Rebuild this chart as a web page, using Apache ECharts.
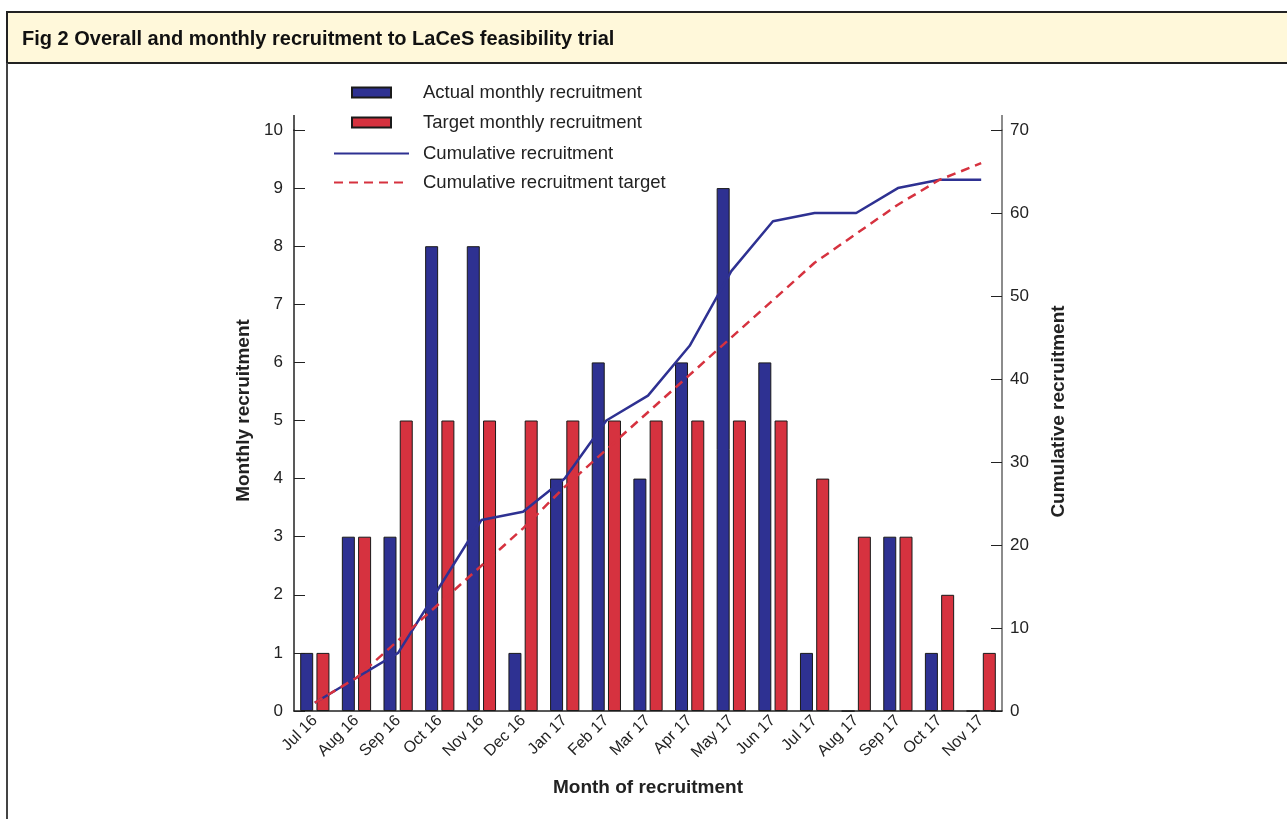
<!DOCTYPE html>
<html>
<head>
<meta charset="utf-8">
<script src="https://cdn.jsdelivr.net/npm/echarts@6/dist/echarts.min.js"></script>
<style>
html,body{margin:0;padding:0;background:#fff;}
#chart{width:1287px;height:819px;}
</style>
</head>
<body>
<div id="chart"></div>
<script>
const months = ['Jul 16','Aug 16','Sep 16','Oct 16','Nov 16','Dec 16','Jan 17','Feb 17','Mar 17','Apr 17','May 17','Jun 17','Jul 17','Aug 17','Sep 17','Oct 17','Nov 17'];
const actualMonthly = [1,3,3,8,8,1,4,6,4,6,9,6,1,0,3,1,0];
const targetMonthly = [1,3,5,5,5,5,5,5,5,5,5,5,4,3,3,2,1];
const cumulativeActual = [1,4,7,15,23,24,28,35,38,44,53,59,60,60,63,64,64];
const cumulativeTarget = [1,4,8.5,13,17.5,22,27,31.5,36,40.5,45,49.5,54,57.5,61,64,66];
const leftTicks = {min:0,max:10,interval:1};
const rightTicks = {min:0,max:70,interval:10};

const BLUE = '#2e3192';
const RED = '#d6323f';
const FONT = '"Liberation Sans", Arial, sans-serif';

const chart = echarts.init(document.getElementById('chart'));
chart.setOption({
  animation:false,
  textStyle:{fontFamily:FONT},
  title:{
    text:'Fig 2 Overall and monthly recruitment to LaCeS feasibility trial',
    left:22, top:29,
    padding:0,
    textStyle:{fontFamily:FONT,fontSize:20,fontWeight:'bold',color:'#111'}
  },
  graphic:[
    {type:'rect',z:-1,shape:{x:7,y:12,width:1300,height:51},style:{fill:'#fff8da',stroke:'#222',lineWidth:2}},
    {type:'line',shape:{x1:7,y1:63,x2:7,y2:830},style:{stroke:'#444',lineWidth:2}},
    {type:'line',shape:{x1:294,y1:115,x2:294,y2:131},style:{stroke:'#222',lineWidth:1.5}},
    {type:'line',shape:{x1:1002,y1:115,x2:1002,y2:131},style:{stroke:'#666',lineWidth:1.5}}
  ],
  legend:[
    {
      data:['Actual monthly recruitment','Target monthly recruitment'],
      orient:'vertical', left:351, top:83, padding:0,
      itemWidth:39, itemHeight:10, itemGap:11,
      icon:'rect',
      textStyle:{fontFamily:FONT,fontSize:18.5,color:'#222',lineHeight:18,padding:[0,0,0,27]}
    },
    {
      data:['Cumulative recruitment','Cumulative recruitment target'],
      orient:'vertical', left:333, top:144, padding:0,
      itemWidth:75, itemHeight:14, itemGap:10,
      itemStyle:{opacity:0},
      textStyle:{fontFamily:FONT,fontSize:18.5,color:'#222',lineHeight:18,padding:[0,0,0,9]}
    }
  ],
  grid:{left:294,right:285,top:130,bottom:108,containLabel:false},
  xAxis:{
    type:'category',
    data:months,
    boundaryGap:true,
    name:'Month of recruitment',
    nameLocation:'middle',
    nameGap:67,
    nameTextStyle:{fontFamily:FONT,fontSize:19,fontWeight:'bold',color:'#222'},
    axisLine:{lineStyle:{color:'#222',width:1.5}},
    axisTick:{inside:true,length:10,lineStyle:{color:'#222'}},
    axisLabel:{rotate:45,fontSize:16,color:'#222',margin:7,interval:0,fontFamily:FONT}
  },
  yAxis:[
    {
      type:'value', min:leftTicks.min, max:leftTicks.max, interval:leftTicks.interval,
      name:'Monthly recruitment', nameLocation:'middle', nameGap:35,
      nameTextStyle:{fontFamily:FONT,fontSize:19,fontWeight:'bold',color:'#222',padding:[0,0,0,20]},
      axisLine:{show:true,lineStyle:{color:'#222',width:1.5}},
      axisTick:{show:true,inside:true,length:11,lineStyle:{color:'#222'}},
      axisLabel:{fontSize:17,color:'#222',margin:11,fontFamily:FONT},
      splitLine:{show:false}
    },
    {
      type:'value', min:rightTicks.min, max:rightTicks.max, interval:rightTicks.interval,
      position:'right',
      name:'Cumulative recruitment', nameLocation:'middle', nameGap:47,
      nameTextStyle:{fontFamily:FONT,fontSize:19,fontWeight:'bold',color:'#222',padding:[0,0,0,18]},
      axisLine:{show:true,lineStyle:{color:'#666',width:1.5}},
      axisTick:{show:true,inside:true,length:11,lineStyle:{color:'#222'}},
      axisLabel:{fontSize:17,color:'#222',margin:8,fontFamily:FONT},
      splitLine:{show:false}
    }
  ],
  series:[
    {
      name:'Actual monthly recruitment', type:'bar', data:actualMonthly,
      barWidth:13, barGap:'25%',
      itemStyle:{color:BLUE,borderColor:'#1a1a1a',borderWidth:1}
    },
    {
      name:'Target monthly recruitment', type:'bar', data:targetMonthly,
      barWidth:13,
      itemStyle:{color:RED,borderColor:'#1a1a1a',borderWidth:1}
    },
    {
      name:'Cumulative recruitment', type:'line', yAxisIndex:1, data:cumulativeActual,
      symbol:'none', z:5,
      itemStyle:{color:BLUE},
      lineStyle:{color:BLUE,width:2.5}
    },
    {
      name:'Cumulative recruitment target', type:'line', yAxisIndex:1, data:cumulativeTarget,
      symbol:'none', z:5,
      itemStyle:{color:RED},
      lineStyle:{color:RED,width:2.5,type:[9,6]}
    }
  ]
});
</script>
</body>
</html>
